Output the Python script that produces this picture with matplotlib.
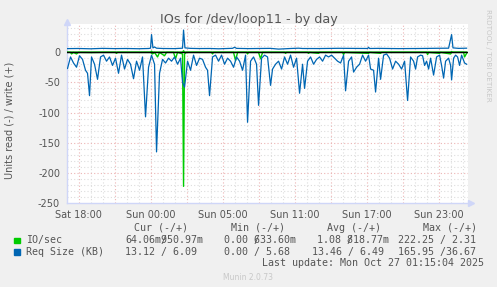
import matplotlib

matplotlib.use("Agg")
import matplotlib.pyplot as plt
import numpy as np
from matplotlib.patches import Rectangle

# time axis: minutes from Sat 18:00 (real time, DST ends during Sun night)
SIZE_READ_MIN = [
    -55, -40, -25, -10, 5, 20, 35, 45, 55, 65, 80, 95, 110, 125, 140, 155, 170, 185, 200, 215,
    230, 245, 260, 275, 290, 305, 320, 335, 350, 365, 380, 390, 405, 420, 435, 450, 465, 480,
    495, 510, 520, 530, 545, 560, 575, 590, 605, 620, 635, 645, 655, 670, 685, 700, 715, 730,
    745, 760, 775, 790, 805, 820, 835, 845, 860, 875, 890, 900, 915, 930, 945, 960, 970, 985,
    1000, 1015, 1030, 1045, 1060, 1075, 1090, 1105, 1120, 1130, 1145, 1160, 1175, 1190, 1205,
    1220, 1235, 1250, 1265, 1280, 1295, 1310, 1325, 1335, 1350, 1365, 1375, 1390, 1405, 1420,
    1435, 1450, 1460, 1475, 1485, 1500, 1510, 1525, 1540, 1555, 1570, 1585, 1600, 1615, 1630,
    1645, 1660, 1675, 1685, 1695, 1710, 1720, 1730, 1740, 1750, 1760, 1775, 1790, 1805, 1815,
    1825, 1835, 1850, 1860, 1865, 1875, 1885, 1895, 1905, 1915, 1930, 1940,
]
SIZE_READ = [
    -27, -8, -18, -25, -6, -12, -30, -35, -72, -8, -20, -45, -8, -5, -15, -8, -22, -10, -35, -5,
    -28, -12, -20, -44, -15, -30, -8, -107, -25, -5, -20, -165, -35, -12, -18, -10, -15, -8,
    -20, -10, -50, -58, -15, -30, -5, -22, -10, -12, -25, -30, -72, -8, -5, -15, -5, -20,
    -10, -15, -25, -8, -15, -30, -5, -116, -15, -8, -20, -88, -10, -5, -8, -55, -28, -20,
    -15, -28, -8, -20, -5, -25, -10, -68, -20, -60, -15, -8, -20, -12, -8,
    -15, -5, -8, -5, -10, -15, -18, -5, -64, -15, -8, -33, -25, -20, -5,
    -15, -5, -28, -30, -66, -10, -45, -5, -3, -10, -28, -15, -20, -28, -15,
    -80, -8, -15, -28, -8, -5, -6, -22, -15, -28, -10, -38, -8, -5, -22,
    -43, -15, -10, -22, -46, -10, -5, -8, -22, -5, -18, -20,
]

SIZE_WRITE_MIN = [
    -55, 0, 60, 120, 180, 240, 300, 350, 360, 365, 372, 380, 390, 420, 480, 520, 525, 532,
    560, 600, 660, 700, 770, 780, 790, 850, 900, 960, 1000, 1060, 1100, 1120, 1200, 1300,
    1445, 1450, 1455, 1500, 1600, 1700, 1780, 1850, 1865, 1872, 1900, 1940,
]
SIZE_WRITE = [
    5.8, 6.0, 5.5, 6.2, 5.8, 6.0, 5.6, 6.0, 6.5, 29.0, 7.0, 8.5, 6.5, 6.0, 5.8, 6.5, 36.5, 7.0,
    6.2, 5.9, 6.0, 5.5, 6.3, 8.0, 6.2, 5.8, 6.0, 6.2, 5.0, 6.0, 6.5, 6.0, 5.9, 6.3,
    6.0, 8.0, 6.0, 6.2, 5.8, 6.0, 6.3, 6.5, 29.0, 7.0, 6.2, 6.5,
]

IOS_READ_MIN = [
    -55, -40, -35, -25, -10, 0, 60, 120, 185, 190, 195, 300, 360, 370, 380, 395, 405, 430,
    440, 475, 485, 495, 520, 525, 530, 540, 600, 665, 670, 675, 775, 785, 795, 840, 845, 850,
    900, 910, 920, 1030, 1035, 1040, 1145, 1150, 1155, 1200, 1205, 1320, 1325, 1330, 1450,
    1455, 1510, 1515, 1740, 1745, 1750, 1805, 1810, 1860, 1865, 1925, 1930, 1940,
]
IOS_READ = [
    -0.5, -0.5, -3, -0.5, -3, -0.5, -0.8, -0.5, -0.5, -2, -0.5, -0.5, -0.5, -3, -0.5, -8, -0.5, -6,
    -0.5, -0.5, -11, -0.5, -3, -222, -3, -0.5, -0.5, -0.5, -3, -0.5, -0.5, -14, -0.5, -0.5, -3, -0.5,
    -0.5, -11, -0.5, -0.5, -2, -0.5, -0.5, -2, -0.5, -2, -0.5, -0.5, -4, -0.5, -2,
    -0.5, -2, -0.5, -0.5, -4, -0.5, -2, -0.5, -3, -0.5, -0.5, -8, -2,
]

IOS_WRITE_MIN = [-55, 360, 365, 370, 520, 525, 530, 1860, 1865, 1870, 1940]
IOS_WRITE = [0.0, 0.0, 1.5, 0.0, 0.0, 2.3, 0.0, 0.0, 1.0, 0.0, 0.1]

TICK_HOURS = [0, 6, 12, 18, 24, 30]
TICK_LABELS = ["Sat 18:00", "Sun 00:00", "Sun 05:00", "Sun 11:00", "Sun 17:00", "Sun 23:00"]
Y_TICKS = [0, -50, -100, -150, -200, -250]

W, H = 497, 287
FONT = "#555555"
AXIS = "#CFD6F8"
GREEN = "#00CC00"
BLUE = "#0066B3"


def px(x, y):
    return x / W, 1 - y / H


def mono(fig, x, y, s, color=FONT):
    fig.text(*px(x, y), s, family="DejaVu Sans Mono", size=7.2, color=color,
             ha="left", va="center")


def main() -> None:
    fig = plt.figure(figsize=(W / 100, H / 100), dpi=100, facecolor="#F0F0F0")
    left, right, top, bottom = 67, 468, 24, 203.3
    ax = fig.add_axes([left / W, 1 - bottom / H, (right - left) / W, (bottom - top) / H])
    ax.set_facecolor("white")
    ax.set_xlim(-0.96, 32.45)
    ax.set_ylim(-250, 46.5)

    # grid
    for h in range(0, 33):
        major = h % 3 == 0
        ax.axvline(h, color="#ECB4B4" if major else "#DDDDDD", lw=0.8,
                   ls=(0, (1, 2)), zorder=1)
    for v in range(-240, 50, 10):
        major = v % 50 == 0
        ax.axhline(v, color="#ECB4B4" if major else "#DDDDDD", lw=0.8,
                   ls=(0, (1, 2)), zorder=1)

    ax.plot(np.array(IOS_READ_MIN) / 60, IOS_READ, color=GREEN, lw=1.0, zorder=3)
    ax.plot(np.array(IOS_WRITE_MIN) / 60, IOS_WRITE, color=GREEN, lw=1.0, zorder=3)
    ax.plot(np.array(SIZE_READ_MIN) / 60, SIZE_READ, color=BLUE, lw=0.9, zorder=4)
    ax.plot(np.array(SIZE_WRITE_MIN) / 60, SIZE_WRITE, color=BLUE, lw=0.9, zorder=4)
    ax.axhline(0, color="black", lw=1.0, zorder=5)

    for side in ("top", "right"):
        ax.spines[side].set_visible(False)
    for side in ("left", "bottom"):
        ax.spines[side].set_color(AXIS)
        ax.spines[side].set_linewidth(1.0)
    ax.plot([0], [1.01], marker="^", ms=4.5, color=AXIS, transform=ax.transAxes, clip_on=False)
    ax.plot([1.008], [0], marker=">", ms=4.5, color=AXIS, transform=ax.transAxes, clip_on=False)

    ax.set_xticks(TICK_HOURS, TICK_LABELS)
    ax.set_yticks(Y_TICKS, [str(v) for v in Y_TICKS])
    ax.tick_params(length=0, labelsize=7, labelcolor=FONT, pad=5)

    fig.text(*px(249, 20), "IOs for /dev/loop11 - by day", ha="center", va="center",
             size=9.2, color=FONT)
    fig.text(*px(10, 120), "Units read (-) / write (+)", rotation=90, ha="center",
             va="center", size=7, color=FONT)
    fig.text(*px(488, 55), "RRDTOOL / TOBI OETIKER", rotation=270, ha="center",
             va="center", size=5.2, color="#C8C8C8")
    fig.text(*px(248, 277), "Munin 2.0.73", ha="center", va="center", size=5.5,
             color="#C8C8C8")

    # legend table
    mono(fig, 134, 228, "Cur (-/+)")
    mono(fig, 231, 228, "Min (-/+)")
    mono(fig, 327, 228, "Avg (-/+)")
    mono(fig, 423, 228, "Max (-/+)")

    fig.patches.append(Rectangle(px(14, 243), 5.5 / W, 5.5 / H, color=GREEN,
                                 transform=fig.transFigure))
    fig.patches.append(Rectangle(px(14, 254.5), 5.5 / W, 5.5 / H, color=BLUE,
                                 transform=fig.transFigure))
    mono(fig, 26, 240, "IO/sec")
    mono(fig, 26, 251.7, "Req Size (KB)")

    # rrdtool prints the write value over the "/" when it is 7 chars wide
    mono(fig, 125, 240, "64.06m950.97m")
    mono(fig, 125, 240, "      /")
    mono(fig, 224, 240, "0.00 633.60m")
    mono(fig, 224, 240, "     /")
    mono(fig, 317, 240, "1.08 818.77m")
    mono(fig, 317, 240, "     /")
    mono(fig, 398, 240, "222.25 / 2.31")

    mono(fig, 125, 251.7, "13.12 / 6.09")
    mono(fig, 224, 251.7, "0.00 / 5.68")
    mono(fig, 311.5, 251.7, "13.46 / 6.49")
    mono(fig, 398, 251.7, "165.95 /36.67")

    mono(fig, 261.5, 263.3, "Last update: Mon Oct 27 01:15:04 2025")

    fig.savefig("out.png", dpi=100, facecolor=fig.get_facecolor())
    plt.close(fig)


if __name__ == "__main__":
    main()
